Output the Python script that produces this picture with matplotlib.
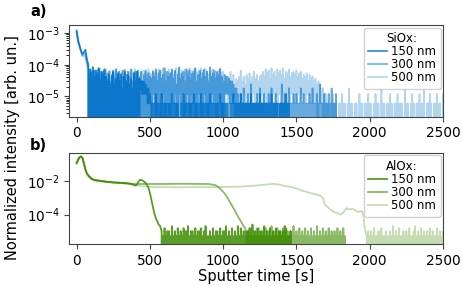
import numpy as np
import matplotlib
matplotlib.use("Agg")
import matplotlib.pyplot as plt

# ---- SiOx (top): first samples explicit, then per-10 s bins with
#      max / min counts (1 count = SI_Q) starting at t = 80 s
SI_Q = 6e-6
si_start_t = [0, 10, 20, 30, 40, 50, 60, 70]
si_start_150 = [1.2e-3, 6e-4, 4e-4, 2.8e-4, 2.2e-4, 2.5e-4, 3e-4, 1.5e-4]
si_start_300 = [1.1e-3, 5.5e-4, 3.8e-4, 2.6e-4, 2.0e-4, 2.3e-4, 2.2e-4, 1.3e-4]
si_start_500 = [1.0e-3, 5e-4, 3.5e-4, 2.5e-4, 1.8e-4, 2.0e-4, 1.6e-4, 1.0e-4]

si_hi_150 = ("hc9e7b8d6a8c7"
             "5847a4695837a5846395a6"
             "65554332"
             "1112111211" "1111211110" "1121111112" "1111211111" "2111111211"
             "1110112111" "1211111121" "1111211111" "1121111011" "11211")
si_lo_150 = ("0300200010200"
             "0000100000010000000100"
             "32222111"
             "0000000000" "0000000000" "0000000000" "0000000000" "0000000000"
             "0000000000" "0000000000" "0000000000" "0000000000" "00000")

si_hi_300 = ("c8a6b79c5a" "7b69a58b6c" "7a59b68a7c" "59a6b7a58b" "697"
             "6a7c59b68d" "5a79c6b48e" "69a5c7b69a" "d58b69c7a5" "e79b6a8c75"
             "8776554332"
             "1213112141" "1121311211" "2131121114" "1211311212" "1131211121"
             "3112141121" "1213112")
si_lo_300 = ("0000000000" "0000000000" "0000000000" "0000000000" "000"
             "1210210120" "2101212012" "1201210212" "0121012102" "1212012101"
             "2221111000"
             "0000000000" "0000000000" "0000000000" "0000000000" "0000000000"
             "0000000000" "0000000")

si_hi_500 = ("b8c6a9b7d5" "a8c69b7a8c" "6a9b7c58a9" "b7c8a69b7a" "8c9"
             "8b9a7c9bd8" "a7c9b8ad9c" "8b7ca9d8b7" "c9a8db7ca8" "9bc8a7bd9a"
             "5746a58465" "7b57486957" "a6857"
             "8a7c9b6d8a" "7c9b8d6a9c" "7"
             "9a8b79a68795867564"
             "543322"
             "1101211011" "2110131101" "1021101121" "1012110311" "0112101121"
             "1103110121" "0112113011" "2101121102")
si_lo_500 = ("0000000000" "0000000000" "0000000000" "0000000000" "000"
             "0000000000" "0000000000" "0000000000" "0000000000" "0000000000"
             "1211212121" "1212112112" "12121"
             "2121212121" "2121212121" "2"
             "212121212121211110"
             "111000"
             "0000000000" "0000000000" "0000000000" "0000000000" "0000000000"
             "0000000000" "0000000000" "0000000000")

# ---- AlOx (bottom): smooth part (t, value), then noise floor (max counts per
#      10 s bin, 1 count = AL_Q)
AL_Q = 5e-6
al_t_150 = [0, 10, 20, 30, 40, 50, 60, 70, 80, 90, 100, 120, 150, 200, 250, 300,
            350, 380, 400, 410, 420, 430, 440, 450, 460, 470, 480, 490, 500, 510,
            520, 530, 540, 550, 560, 570]
al_v_150 = [0.13, 0.2, 0.28, 0.31, 0.25, 0.12, 0.05, 0.03, 0.022, 0.018, 0.015,
            0.012, 0.011, 0.0095, 0.0085, 0.008, 0.0075, 0.0065, 0.0055, 0.006,
            0.009, 0.0115, 0.012, 0.011, 0.0095, 0.008, 0.006, 0.004, 0.002,
            0.0008, 0.0003, 0.00012, 6e-5, 4e-5, 2.5e-5, 2e-5]
al_floor_150 = ("2131221412" "1312132241" "2213122312" "4112131221" "3122412131"
                "2141312122" "3151213121" "4121312131" "221243112")
al_floor0_150 = 580

al_t_300 = [0, 10, 20, 30, 40, 50, 60, 70, 80, 90, 100, 120, 150, 200, 250, 300,
            350, 400, 450, 500, 600, 700, 800, 900, 950, 980, 1000, 1020, 1040,
            1060, 1080, 1100, 1120, 1140, 1150]
al_v_300 = [0.12, 0.19, 0.27, 0.3, 0.24, 0.11, 0.05, 0.029, 0.021, 0.017, 0.014,
            0.0115, 0.0105, 0.0092, 0.0084, 0.0079, 0.0073, 0.0068, 0.0068, 0.0069,
            0.0068, 0.007, 0.0069, 0.0068, 0.0057, 0.0035, 0.0023, 0.0014, 0.0007,
            0.00035, 0.00017, 8e-5, 4e-5, 2e-5, 1.5e-5]
al_floor_300 = ("1213121312" "1213122412" "1312131221" "2141213121" "3121312141"
                "2131213121" "21312131")
al_floor0_300 = 1160

al_t_500 = [0, 10, 20, 30, 40, 50, 60, 70, 80, 90, 100, 120, 150, 200, 250, 300,
            350, 400, 450, 500, 600, 700, 800, 900, 1000, 1100, 1200, 1250, 1300,
            1340, 1380, 1430, 1480, 1545, 1600, 1660, 1680, 1694, 1720, 1750, 1780,
            1800, 1820, 1842, 1860, 1880, 1898, 1920, 1944, 1955, 1965, 1972]
al_v_500 = [0.11, 0.18, 0.26, 0.29, 0.23, 0.11, 0.048, 0.028, 0.02, 0.016, 0.0135,
            0.011, 0.0102, 0.009, 0.0082, 0.0076, 0.0068, 0.0058, 0.005, 0.0046,
            0.0044, 0.0043, 0.0044, 0.0044, 0.0045, 0.0047, 0.0052, 0.0058, 0.0064,
            0.0069, 0.0063, 0.005, 0.0042, 0.0026, 0.0019, 0.0014, 0.001, 0.0004,
            0.00025, 0.00015, 0.00012, 0.0001, 0.00013, 0.00024, 0.0002, 0.00022,
            0.00019, 0.00014, 0.00016, 0.00012, 2e-5, 8e-6]
al_floor_500 = ("1212131121" "3112112141" "2131121213" "1124121312" "1213121131"
                "212")
al_floor0_500 = 1980

labels = ["150 nm", "300 nm", "500 nm"]
alphas = [0.85, 0.6, 0.3]
blue = "#0072cc"
green = "#3d8c00"


def counts(s):
    return [int(c, 36) for c in s]


def zigzag(t0, hi, lo, q):
    # max of each 10 s bin at its start, min half a bin later
    t, y = [], []
    for i, (h, l) in enumerate(zip(counts(hi), counts(lo))):
        t += [t0 + 10 * i, t0 + 10 * i + 5]
        y += [h * q, l * q]
    return t, y


def si_series(start, hi, lo):
    t, y = zigzag(80, hi, lo, SI_Q)
    return np.array(si_start_t + t, float), np.array(start + y, float)


def al_series(t_sm, v_sm, floor, t0):
    t, y = zigzag(t0, floor, "0" * len(floor), AL_Q)
    return np.array(t_sm + t, float), np.array(v_sm + y, float)


plt.rcParams["font.family"] = "DejaVu Sans"
fig = plt.figure(figsize=(4.63, 2.86), dpi=100)
ax1 = fig.add_axes([0.1497, 0.592, 0.807, 0.3196])
ax2 = fig.add_axes([0.1497, 0.1469, 0.807, 0.319])

si = [si_series(si_start_150, si_hi_150, si_lo_150),
      si_series(si_start_300, si_hi_300, si_lo_300),
      si_series(si_start_500, si_hi_500, si_lo_500)]
al = [al_series(al_t_150, al_v_150, al_floor_150, al_floor0_150),
      al_series(al_t_300, al_v_300, al_floor_300, al_floor0_300),
      al_series(al_t_500, al_v_500, al_floor_500, al_floor0_500)]

for (t, y), lab, a in zip(si, labels, alphas):
    ax1.plot(t, y, color=blue, alpha=a, lw=1.2, label=lab)
for (t, y), lab, a in zip(al, labels, alphas):
    ax2.plot(t, y, color=green, alpha=a, lw=1.3, label=lab)

ax1.set_yscale("log")
ax2.set_yscale("log")
ax1.set_ylim(2.3e-6, 1.75e-3)
ax2.set_ylim(1.7e-6, 0.51)
ax2.set_yticks([1e-2, 1e-4])
for ax in (ax1, ax2):
    ax.set_xlim(-50, 2500)
    ax.set_xticks([0, 500, 1000, 1500, 2000, 2500])
    ax.tick_params(labelsize=9.8, color="#444444")
    for sp in ax.spines.values():
        sp.set_color("#444444")
ax2.yaxis.set_minor_locator(matplotlib.ticker.NullLocator())

leg_kw = dict(loc="upper right", fontsize=8.5, title_fontsize=8.5,
              handlelength=1.6, labelspacing=0.0, borderaxespad=0.2,
              borderpad=0.4, handletextpad=0.3, framealpha=0.9)
ax1.legend(title="SiOx:", **leg_kw)
ax2.legend(title="AlOx:", **leg_kw)

ax2.set_xlabel("Sputter time [s]", fontsize=10.5, labelpad=1)
fig.text(0.026, 0.484, "Normalized intensity [arb. un.]", rotation=90,
         ha="center", va="center", fontsize=10.5)
fig.text(30 / 463, 1 - 11 / 286, "a)", fontweight="bold", fontsize=10.5, va="center")
fig.text(30 / 463, 1 - 146 / 286, "b)", fontweight="bold", fontsize=10.5, va="center")

fig.savefig("out.png", dpi=100)
